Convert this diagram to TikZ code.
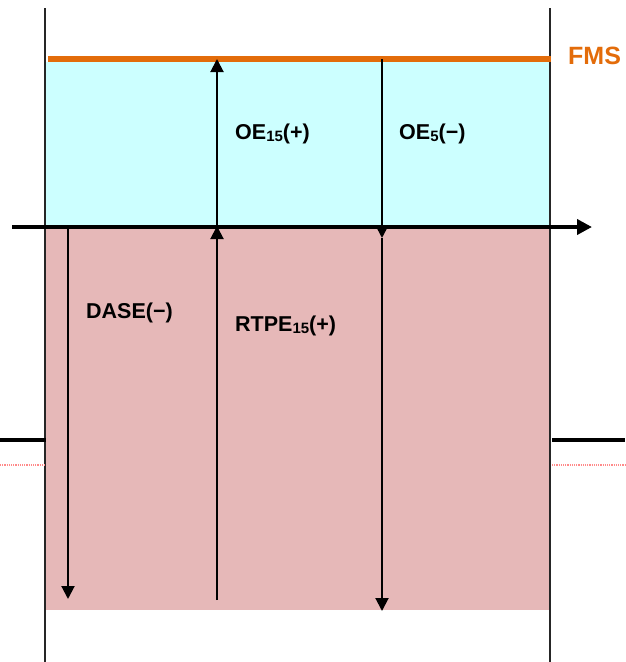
\documentclass[tikz,border=0pt]{standalone}
\usepackage{fontspec}
\setmainfont{Liberation Sans}
\usetikzlibrary{arrows.meta}
\definecolor{cyanbg}{HTML}{CCFFFF}
\definecolor{pinkbg}{HTML}{E6B8B8}
\definecolor{fmsorange}{HTML}{E36C0A}
\definecolor{dotred}{HTML}{FF8A8A}
\tikzset{
  lbl/.style={anchor=base west, inner sep=0pt, font=\fontsize{21.5}{25}\selectfont\bfseries},
  vec/.style={line width=2pt, -{Triangle[width=13pt,length=13pt]}},
  border/.style={line width=1.3pt, black!85},
}
\newcommand{\sbs}[1]{\raisebox{-0.25ex}{\fontsize{15}{17}\selectfont #1}}
\begin{document}
\begin{tikzpicture}[x=1pt,y=-1pt]
\useasboundingbox (0,0) rectangle (625,662);
% regions
\fill[cyanbg] (46,62) rectangle (550,226);
\fill[pinkbg] (46,226) rectangle (550,610);
% borders
\draw[border] (45,8) -- (45,662);
\draw[border] (550,8) -- (550,662);
% FMS line
\draw[fmsorange, line width=6pt] (48,59) -- (551,59);
% side lines
\draw[line width=4pt] (0,440) -- (46,440);
\draw[line width=4pt] (552,440) -- (625,440);
\draw[dotred, line width=1.2pt, densely dotted] (0,465) -- (45,465);
\draw[dotred, line width=1.2pt, densely dotted] (552,465) -- (625,465);
% coordinates
\coordinate (axL) at (12,227);
\coordinate (axR) at (592,227);
\coordinate (oeb) at (217,227);
\coordinate (oet) at (217,59);
\coordinate (o5t) at (382,59);
\coordinate (o5b) at (382,238);
\coordinate (rtb) at (217,600);
\coordinate (rtt) at (217,226);
\coordinate (dat) at (68,226);
\coordinate (dab) at (68,599);
\coordinate (lob) at (382,611);
% axis
\draw[line width=4pt, -{Triangle[width=15pt,length=15pt]}] (axL) -- (axR);
% vectors
\draw[vec] (oeb) -- (oet);
\draw[vec] (o5t) -- (o5b);
\draw[vec] (rtb) -- (rtt);
\draw[vec] (dat) -- (dab);
\draw[vec] (o5b) -- (lob);
% labels
\node[lbl, text=fmsorange, font=\fontsize{25}{29}\selectfont\bfseries] (fms) at (568,64) {FMS};
\node[lbl] (oe15) at (235,139) {OE\sbs{15}(+)};
\node[lbl] (oe5) at (399,139) {OE\sbs{5}(−)};
\node[lbl] (dase) at (86,318) {DASE(−)};
\node[lbl] (rtpe) at (235,331) {RTPE\sbs{15}(+)};
\end{tikzpicture}
\end{document}
